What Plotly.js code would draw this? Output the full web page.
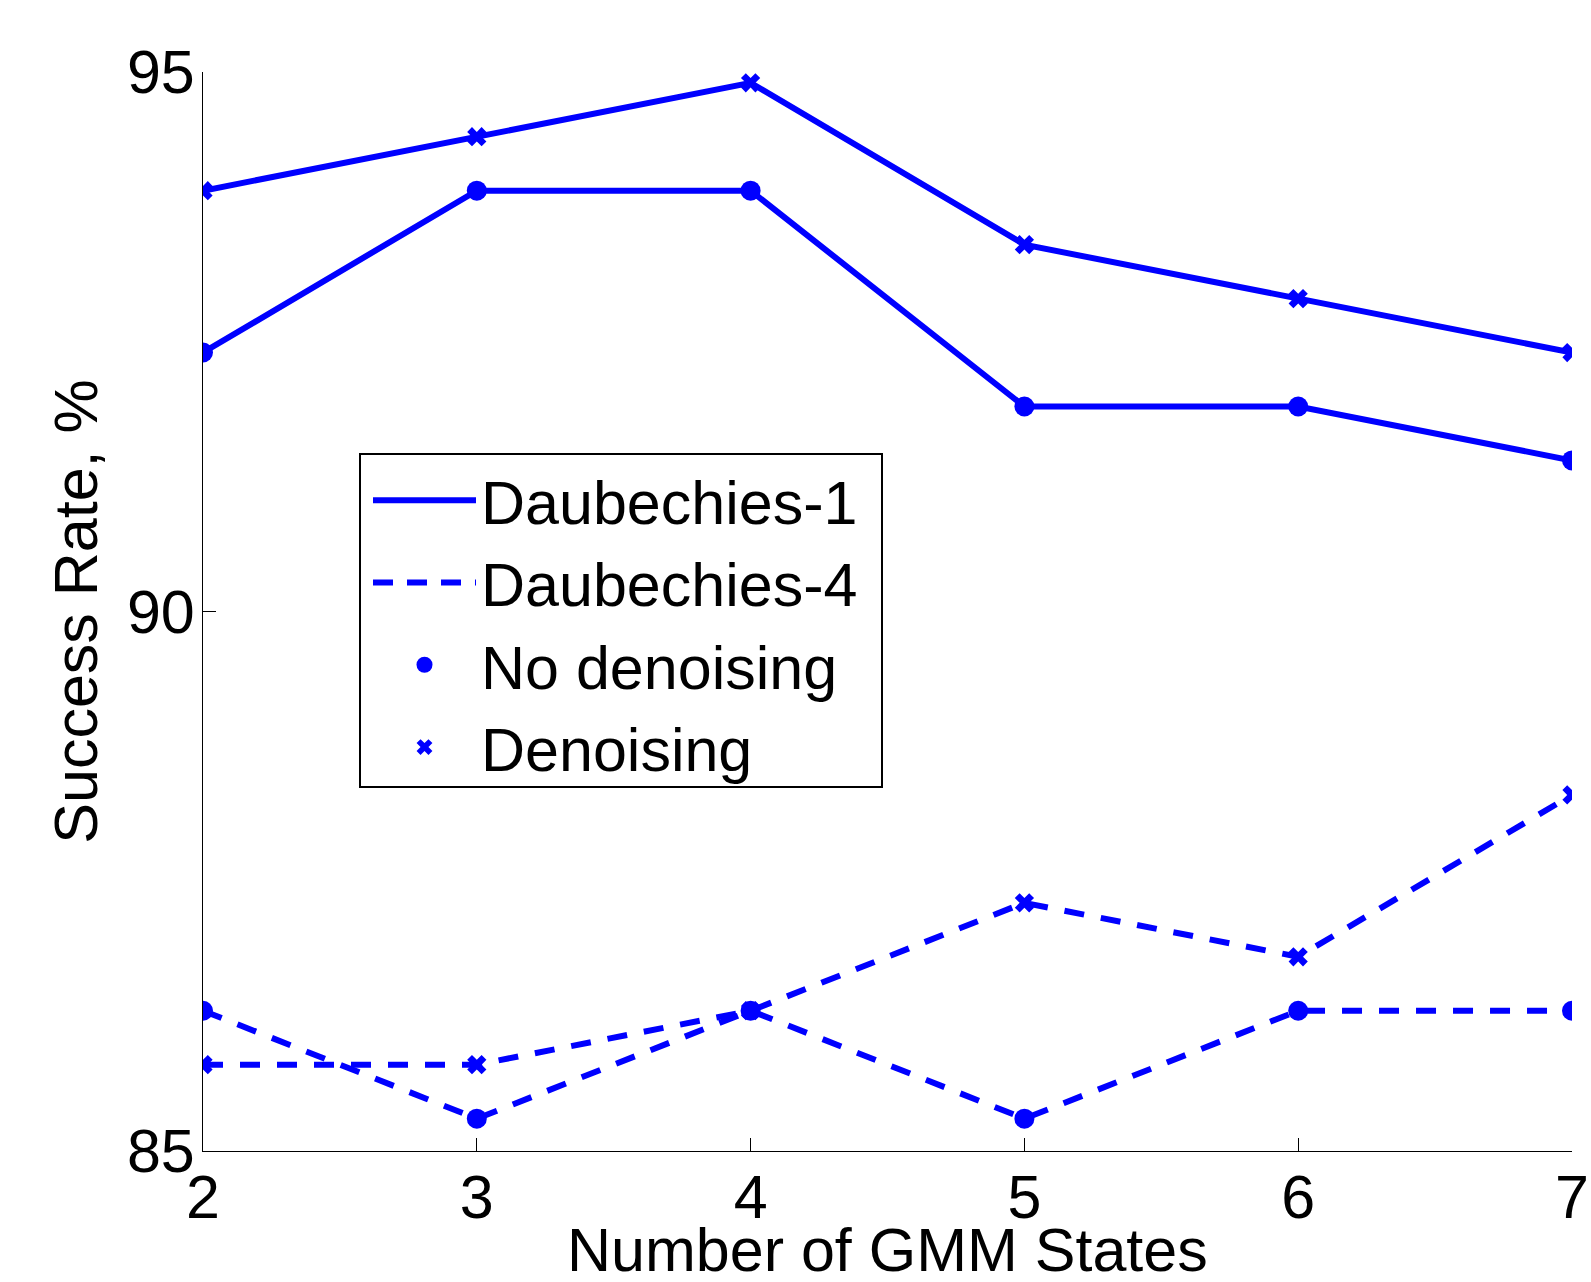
<!DOCTYPE html>
<html>
<head>
<meta charset="utf-8">
<script src="https://cdn.plot.ly/plotly-3.0.1.min.js"></script>
<style>html,body{margin:0;padding:0;background:#fff;}#chart{width:1591px;height:1282px;}</style>
</head>
<body>
<div id="chart"></div>
<script>
const states = [2, 3, 4, 5, 6, 7];
const db1NoDenoise = [92.4, 93.9, 93.9, 91.9, 91.9, 91.4];
const db1Denoise   = [93.9, 94.4, 94.9, 93.4, 92.9, 92.4];
const db4NoDenoise = [86.3, 85.3, 86.3, 85.3, 86.3, 86.3];
const db4Denoise   = [85.8, 85.8, 86.3, 87.3, 86.8, 88.3];
const legendNames = ['Daubechies-1', 'Daubechies-4', 'No denoising', 'Denoising'];
const xTicks = [2, 3, 4, 5, 6, 7];
const yTicks = [85, 90, 95];
const xTitle = 'Number of GMM States';
const yTitle = 'Success Rate, %';

const blue = '#0000FF';
const FONT = '"Liberation Sans", Arial, Helvetica, sans-serif';
const dash = '20px,17px';

// plot area in pixels
const L = 203, R = 1572, T = 72, B = 1151;
const px2x = p => (p - L) / (R - L);
const px2y = p => (B - p) / (B - T);

const traces = [
  {x: states, y: db1NoDenoise, mode: 'lines+markers', line: {color: blue, width: 6},
   marker: {symbol: 'circle', size: 20, color: blue}, showlegend: false, hoverinfo: 'skip'},
  {x: states, y: db1Denoise, mode: 'lines+markers', line: {color: blue, width: 6},
   marker: {symbol: 'x', size: 17, color: blue}, showlegend: false, hoverinfo: 'skip'},
  {x: states, y: db4NoDenoise, mode: 'lines+markers', line: {color: blue, width: 6, dash: dash},
   marker: {symbol: 'circle', size: 20, color: blue}, showlegend: false, hoverinfo: 'skip'},
  {x: states, y: db4Denoise, mode: 'lines+markers', line: {color: blue, width: 6, dash: dash},
   marker: {symbol: 'x', size: 17, color: blue}, showlegend: false, hoverinfo: 'skip'},
  // legend entries
  {x: [null], y: [null], mode: 'lines', name: legendNames[0], line: {color: blue, width: 6}},
  {x: [null], y: [null], mode: 'lines', name: legendNames[1], line: {color: blue, width: 6, dash: '20px,14px'}},
  {x: [null], y: [null], mode: 'markers', name: legendNames[2], marker: {symbol: 'circle', size: 19, color: blue}},
  {x: [null], y: [null], mode: 'markers', name: legendNames[3], marker: {symbol: 'x', size: 14, color: blue}}
];

const layout = {
  width: 1591, height: 1282,
  margin: {l: L, r: 1591 - R, t: T, b: 1282 - B},
  paper_bgcolor: '#fff', plot_bgcolor: '#fff',
  font: {family: FONT, color: '#000', size: 60},
  showlegend: true,
  shapes: [{
    type: 'rect', xref: 'paper', yref: 'paper', layer: 'above',
    x0: px2x(360), x1: px2x(882), y0: px2y(787), y1: px2y(454),
    line: {color: '#000', width: 2}, fillcolor: '#fff'
  }],
  annotations: [{
    text: xTitle, xref: 'paper', yref: 'paper', x: 0.5, y: px2y(1250),
    xanchor: 'center', yanchor: 'middle', showarrow: false,
    font: {family: FONT, size: 61, color: '#000'}
  }],
  legend: {
    x: px2x(368), y: px2y(454), xanchor: 'left', yanchor: 'top',
    xref: 'paper', yref: 'paper',
    bgcolor: 'rgba(0,0,0,0)', borderwidth: 0,
    font: {family: FONT, size: 61, color: '#000'},
    itemwidth: 103, tracegroupgap: 0, itemsizing: 'trace'
  },
  xaxis: {
    range: [2, 7], tickvals: xTicks, ticktext: xTicks.map(String),
    showgrid: false, zeroline: false, showline: true, linecolor: '#000', linewidth: 1,
    ticks: 'inside', ticklen: 13, tickwidth: 1, tickcolor: '#000',
    tickfont: {family: FONT, size: 61, color: '#000'}, ticklabelstandoff: -7,
    mirror: false, fixedrange: true
  },
  yaxis: {
    range: [85, 95], tickvals: yTicks, ticktext: yTicks.map(String),
    showgrid: false, zeroline: false, showline: true, linecolor: '#000', linewidth: 1,
    ticks: 'inside', ticklen: 13, tickwidth: 1, tickcolor: '#000',
    tickfont: {family: FONT, size: 61, color: '#000'}, ticklabelstandoff: -5,
    title: {text: yTitle, font: {family: FONT, size: 61, color: '#000'}, standoff: 9},
    mirror: false, fixedrange: true
  }
};

Plotly.newPlot('chart', traces, layout, {staticPlot: true, displayModeBar: false});
</script>
</body>
</html>
